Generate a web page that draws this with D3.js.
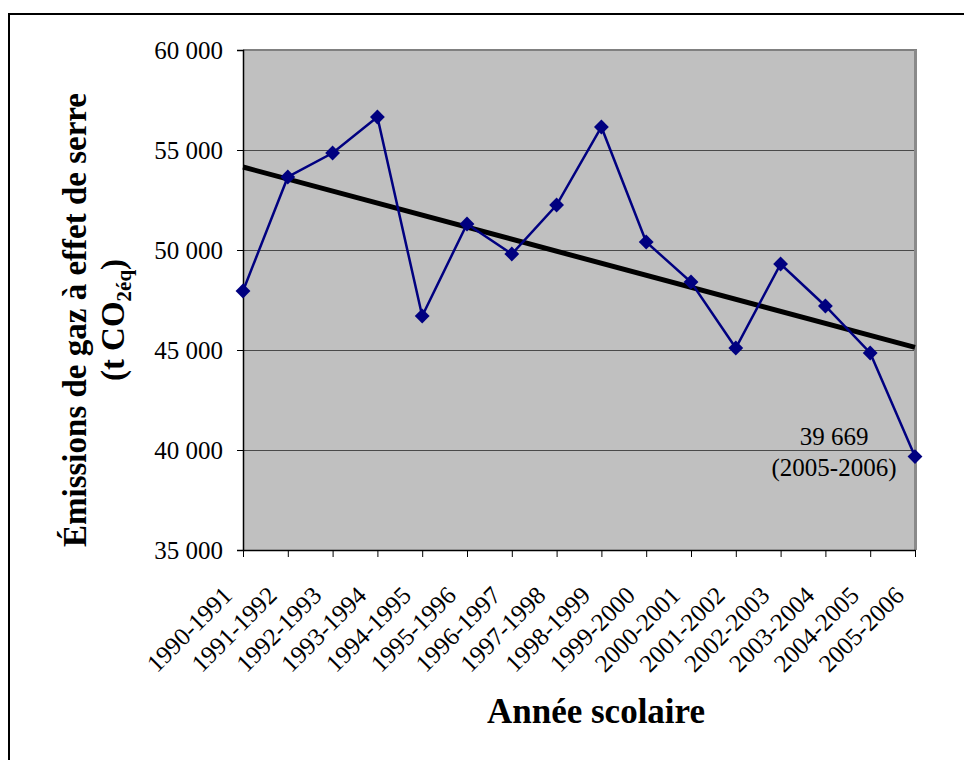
<!DOCTYPE html>
<html>
<head>
<meta charset="utf-8">
<script src="https://cdn.jsdelivr.net/npm/d3@7"></script>
<style>
  body { margin: 0; background: #fff; }
  text { font-family: "Liberation Serif", "Times New Roman", serif; }
</style>
</head>
<body>
<svg id="chart" width="964" height="760"></svg>
<script>
// school years (categories)
var years = ["1990-1991", "1991-1992", "1992-1993", "1993-1994", "1994-1995",
  "1995-1996", "1996-1997", "1997-1998", "1998-1999", "1999-2000",
  "2000-2001", "2001-2002", "2002-2003", "2003-2004", "2004-2005", "2005-2006"];

// emissions, t CO2 eq
var emissions = [47950, 53650, 54850, 56650, 46700, 51300, 49800, 52250,
  56150, 50400, 48400, 45100, 49300, 47200, 44850, 39669];

var yTicks = [35000, 40000, 45000, 50000, 55000, 60000];

var svg = d3.select("#chart");

// outer frame (continues off the page on the right and bottom)
svg.append("path")
  .attr("d", "M9,770 L9,14 L970,14")
  .attr("fill", "none")
  .attr("stroke", "#000")
  .attr("stroke-width", 2);

var plot = { left: 243, top: 50, right: 915, bottom: 550 };

var x = d3.scalePoint()
  .domain(years)
  .range([plot.left, plot.right]);

var y = d3.scaleLinear()
  .domain([35000, 60000])
  .range([plot.bottom, plot.top]);

var fmt = function (d) { return d3.format(",")(d).replace(",", " "); };

// plot background
svg.append("rect")
  .attr("x", plot.left)
  .attr("y", plot.top)
  .attr("width", plot.right - plot.left)
  .attr("height", plot.bottom - plot.top)
  .attr("fill", "#c0c0c0");

// gridlines
svg.append("g")
  .selectAll("line")
  .data(yTicks.slice(1, -1))
  .enter()
  .append("line")
  .attr("x1", plot.left)
  .attr("x2", plot.right)
  .attr("y1", function (d) { return y(d) + 0.5; })
  .attr("y2", function (d) { return y(d) + 0.5; })
  .attr("stroke", "#4a4a4a")
  .attr("stroke-width", 1);

// plot border (top + right shadow)
svg.append("line")
  .attr("x1", plot.left).attr("x2", plot.right + 2)
  .attr("y1", plot.top).attr("y2", plot.top)
  .attr("stroke", "#808080").attr("stroke-width", 2);
svg.append("line")
  .attr("x1", plot.right + 0.5).attr("x2", plot.right + 0.5)
  .attr("y1", plot.top).attr("y2", plot.bottom)
  .attr("stroke", "#8a8a8a").attr("stroke-width", 3);

// y axis
var yAxis = svg.append("g")
  .attr("transform", "translate(" + plot.left + ",0)")
  .call(d3.axisLeft(y).tickValues(yTicks).tickFormat(fmt).tickSize(6).tickPadding(14));
yAxis.select(".domain").attr("stroke", "#000").attr("stroke-width", 1.5);
yAxis.selectAll("text")
  .attr("font-size", 25)
  .attr("fill", "#000")
  .style("font-family", "Liberation Serif");

// x axis
var xAxis = svg.append("g")
  .attr("transform", "translate(0," + plot.bottom + ")")
  .call(d3.axisBottom(x).tickSize(7).tickSizeOuter(0));
xAxis.select(".domain").attr("stroke", "#000").attr("stroke-width", 1.5);
xAxis.selectAll("text")
  .attr("font-size", 25)
  .attr("fill", "#000")
  .style("font-family", "Liberation Serif")
  .attr("text-anchor", "end")
  .attr("transform", "translate(-10,47) rotate(-45)")
  .attr("dy", 0)
  .attr("y", 0)
  .attr("x", 0);

// linear trend (least squares)
var n = emissions.length;
var mx = d3.mean(emissions, function (d, i) { return i; });
var my = d3.mean(emissions);
var sxy = d3.sum(emissions, function (d, i) { return (i - mx) * (d - my); });
var sxx = d3.sum(emissions, function (d, i) { return (i - mx) * (i - mx); });
var slope = sxy / sxx;
var intercept = my - slope * mx;

svg.append("line")
  .attr("x1", x(years[0]))
  .attr("y1", y(intercept))
  .attr("x2", x(years[n - 1]))
  .attr("y2", y(intercept + slope * (n - 1)))
  .attr("stroke", "#000")
  .attr("stroke-width", 5);

// series line
var line = d3.line()
  .x(function (d, i) { return x(years[i]); })
  .y(function (d) { return y(d); });

svg.append("path")
  .datum(emissions)
  .attr("d", line)
  .attr("fill", "none")
  .attr("stroke", "#000080")
  .attr("stroke-width", 2.5);

// diamond markers
svg.append("g")
  .selectAll("path")
  .data(emissions)
  .enter()
  .append("path")
  .attr("d", d3.symbol().type(d3.symbolDiamond2).size(140))
  .attr("transform", function (d, i) { return "translate(" + x(years[i]) + "," + y(d) + ")"; })
  .attr("fill", "#000080");

// annotation on the last point
var last = n - 1;
svg.append("text")
  .attr("x", 834)
  .attr("y", 445)
  .attr("text-anchor", "middle")
  .attr("font-size", 25)
  .text(fmt(emissions[last]));
svg.append("text")
  .attr("x", 834)
  .attr("y", 476)
  .attr("text-anchor", "middle")
  .attr("font-size", 25)
  .text("(" + years[last] + ")");

// y axis title
var yTitle = svg.append("text")
  .attr("transform", "translate(86,320) rotate(-90)")
  .attr("text-anchor", "middle")
  .attr("font-size", 33)
  .attr("font-weight", "bold");
yTitle.append("tspan")
  .attr("x", 0)
  .attr("y", 0)
  .text("Émissions de gaz à effet de serre");
yTitle.append("tspan")
  .attr("x", 0)
  .attr("y", 38)
  .text("(t CO");
yTitle.append("tspan")
  .attr("font-size", 21)
  .attr("dy", 7)
  .text("2éq");
yTitle.append("tspan")
  .attr("dy", -7)
  .text(")");

// x axis title
svg.append("text")
  .attr("x", 596)
  .attr("y", 723)
  .attr("text-anchor", "middle")
  .attr("font-size", 35)
  .attr("font-weight", "bold")
  .text("Année scolaire");
</script>
</body>
</html>
